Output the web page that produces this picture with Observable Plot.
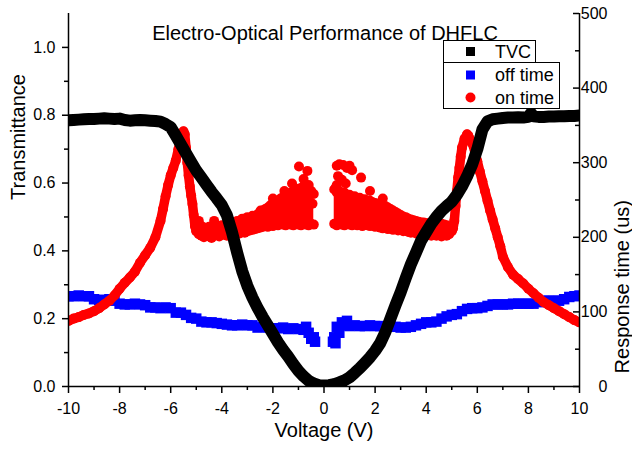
<!DOCTYPE html>
<html><head><meta charset="utf-8">
<script src="https://cdn.jsdelivr.net/npm/d3@7"></script>
<script src="https://cdn.jsdelivr.net/npm/@observablehq/plot@0.6"></script>
<style>html,body{margin:0;padding:0;background:#fff}</style>
</head><body><div id="chart"></div>
<script>
// ---------- DATA ----------
const chartTitle = "Electro-Optical Performance of DHFLC";
const xTitle = "Voltage (V)";
const yLeftTitle = "Transmittance";
const yRightTitle = "Response time (us)";
const xTicks = [-10,-8,-6,-4,-2,0,2,4,6,8,10];
const xMinor = [-9,-7,-5,-3,-1,1,3,5,7,9];
const yLeftTicks = [0,0.2,0.4,0.6,0.8,1.0];
const yLeftMinor = [0.1,0.3,0.5,0.7,0.9];
const yRightTicks = [0,100,200,300,400,500];
const yRightMinor = [50,150,250,350,450];
const legendLabels = ["TVC","off time","on time"];
const legendColors = ["#000000","#0000ff","#ff0000"];

// TVC (left axis, transmittance)
const tvcV = [-10,-9.8,-9.6,-9.4,-9.2,-9,-8.8,-8.6,-8.4,-8.2,-8,-7.8,-7.6,-7.4,-7.2,-7,-6.8,-6.6,-6.4,-6.2,-6,-5.8,-5.6,-5.4,-5.2,-5,-4.8,-4.6,-4.4,-4.2,-4,-3.8,-3.6,-3.4,-3.2,-3,-2.8,-2.6,-2.4,-2.2,-2,-1.8,-1.6,-1.4,-1.2,-1,-0.8,-0.6,-0.4,-0.2,0,0.2,0.4,0.6,0.8,1,1.2,1.4,1.6,1.8,2,2.2,2.4,2.6,2.8,3,3.2,3.4,3.6,3.8,4,4.2,4.4,4.6,4.8,5,5.2,5.4,5.6,5.8,6,6.2,6.4,6.6,6.8,7,7.2,7.4,7.6,7.8,8,8.1,8.2,8.4,8.6,8.8,9,9.2,9.4,9.6,9.8,10];
const tvcT = [0.785,0.786,0.787,0.788,0.789,0.789,0.790,0.791,0.790,0.789,0.790,0.786,0.784,0.785,0.786,0.785,0.784,0.783,0.781,0.774,0.765,0.740,0.714,0.688,0.662,0.637,0.616,0.595,0.574,0.555,0.535,0.505,0.455,0.395,0.340,0.297,0.262,0.232,0.205,0.180,0.155,0.130,0.108,0.088,0.066,0.046,0.030,0.017,0.009,0.004,0.003,0.004,0.007,0.012,0.018,0.027,0.040,0.054,0.070,0.086,0.105,0.128,0.160,0.200,0.240,0.278,0.320,0.360,0.395,0.430,0.455,0.480,0.500,0.518,0.532,0.545,0.565,0.590,0.620,0.655,0.700,0.758,0.782,0.788,0.790,0.792,0.793,0.793,0.794,0.793,0.795,0.806,0.797,0.795,0.795,0.796,0.796,0.797,0.797,0.798,0.798,0.799];

// off time (right axis, us)
const offV = [-10,-9.8,-9.6,-9.4,-9.2,-9,-8.8,-8.6,-8.4,-8.2,-8,-7.8,-7.6,-7.4,-7.2,-7,-6.8,-6.6,-6.4,-6.2,-6,-5.8,-5.6,-5.4,-5.2,-5,-4.8,-4.6,-4.4,-4.2,-4,-3.8,-3.6,-3.4,-3.2,-3,-2.8,-2.6,-2.4,-2.2,-2,-1.8,-1.6,-1.4,-1.2,-1,-0.8,-0.7,-0.6,-0.5,-0.4,-0.35,
  0.35,0.4,0.45,0.5,0.6,0.7,0.8,0.9,1,1.2,1.4,1.6,1.8,2,2.2,2.4,2.6,2.8,3,3.2,3.4,3.6,3.8,4,4.2,4.4,4.6,4.8,5,5.2,5.4,5.6,5.8,6,6.2,6.4,6.6,6.8,7,7.2,7.4,7.6,7.8,8,8.2,8.4,8.6,8.8,9,9.2,9.4,9.6,9.8,10];
const offR = [121,121,122,121,121,117,116,116,117,115,111,110,110,111,110,109,106,106,105,106,105,99,99,96,92,91,87,86,86,85,84,83,82,82,83,82,82,79,80,79,78,78,79,77,78,77,76,80,72,64,66,60,
  60,66,58,80,72,86,82,88,81,82,81,81,82,81,81,80,81,80,79,79,80,82,84,86,86,87,91,94,96,97,101,104,105,105,106,108,110,110,110,110,111,111,111,111,111,113,115,115,115,115,117,120,121,122];

// on time (right axis, us): smooth outer branches
const onOuterV = [-10,-9.8,-9.6,-9.4,-9.2,-9,-8.8,-8.6,-8.4,-8.2,-8,-7.8,-7.6,-7.4,-7.2,-7,-6.8,-6.6,-6.4,-6.3,-6.2,-6.1,-6,-5.9,-5.8,-5.7,-5.6,-5.5,-5.45,-5.4,-5.35,-5.3,-5.25,-5.2,-5.15,-5.1,-5.05,-5,
  5,5.05,5.1,5.15,5.2,5.25,5.3,5.35,5.4,5.5,5.6,5.65,5.7,5.8,5.9,6,6.1,6.2,6.3,6.4,6.5,6.6,6.7,6.8,6.9,7,7.2,7.4,7.6,7.8,8,8.2,8.4,8.6,8.8,9,9.2,9.4,9.6,9.8,10];
const onOuterR = [88,91,93,96,98,101,105,110,115,122,131,139,146,154,166,176,186,200,222,238,255,270,283,293,303,318,332,342,338,320,300,283,268,256,245,230,215,208,
  208,212,222,242,262,280,293,308,320,332,338,336,332,326,316,302,288,275,262,249,236,224,212,200,188,174,160,150,144,138,131,125,119,113,109,105,101,97,93,89,86];

// on time: middle scatter cloud (left side): lower and upper edges of the cloud
const midLV = [-4.9,-4.8,-4.7,-4.6,-4.5,-4.4,-4.3,-4.2,-4.1,-4,-3.9,-3.8,-3.7,-3.6,-3.5,-3.4,-3.3,-3.2,-3.1,-3,-2.9,-2.8,-2.7,-2.6,-2.5,-2.4,-2.3,-2.2,-2.1,-2,-1.9,-1.8,-1.7,-1.6,-1.5,-1.4,-1.3,-1.2,-1.1,-1,-0.9,-0.8,-0.7,-0.6,-0.5,-0.4];
const midLLow = [204,202,200,203,201,199,202,204,201,203,204,202,205,203,204,206,205,207,206,208,209,210,211,212,213,214,215,214,216,215,217,216,218,217,216,218,217,216,218,217,216,218,217,216,218,217];
const midLHigh = [222,215,213,212,214,212,215,213,215,216,214,218,216,220,219,222,221,225,224,227,226,229,228,231,233,236,238,240,243,245,247,249,252,254,256,258,260,262,263,265,266,268,266,270,262,258];
const midLExtraV = [-2.48,-4.3,-1.25,-0.98,-0.8,-0.65,-0.45,-2.0,-1.55];
const midLExtraR = [236,222,272,295,278,289,245,252,262];

// on time: middle scatter cloud (right side)
const midRV = [0.4,0.5,0.6,0.7,0.8,0.9,1,1.1,1.2,1.3,1.4,1.5,1.6,1.7,1.8,1.9,2,2.1,2.2,2.3,2.4,2.5,2.6,2.7,2.8,2.9,3,3.1,3.2,3.3,3.4,3.5,3.6,3.7,3.8,3.9,4,4.1,4.2,4.3,4.4,4.5,4.6,4.7,4.8,4.9];
const midRLow = [218,216,219,217,216,218,217,216,218,216,217,215,217,216,215,216,214,215,213,212,213,211,212,210,211,209,210,208,209,207,206,207,205,206,204,205,203,204,202,203,202,203,201,203,202,204];
const midRHigh = [264,260,262,258,260,256,257,254,255,252,253,250,251,248,249,247,246,245,244,243,242,240,238,236,234,232,230,228,227,225,224,223,222,221,220,220,219,219,218,219,218,217,218,217,216,214];
const midRExtraV = [0.5,0.6,0.75,0.9,1.0,1.1,0.55,0.7,0.5,0.45,1.45,1.8,0.85,2.3];
const midRExtraR = [296,298,297,293,296,290,282,277,270,266,280,262,272,252];

// ---------- BUILD ----------
const K = 1.1 / 500; // right-axis unit -> left-axis unit
const tvc = tvcV.map((v, i) => ({v, t: tvcT[i]}));
const off = offV.map((v, i) => ({v, r: offR[i]}));
const onOuter = onOuterV.map((v, i) => ({v, r: onOuterR[i], side: v < 0 ? "L" : "R"}));
const midL = midLV.map((v, i) => ({v, lo: midLLow[i], hi: midLHigh[i]}));
const midR = midRV.map((v, i) => ({v, lo: midRLow[i], hi: midRHigh[i]}));
const onMid = [
  ...midLV.map((v, i) => ({v, r: midLLow[i]})),
  ...midLV.map((v, i) => ({v, r: midLHigh[i]})),
  ...midLExtraV.map((v, i) => ({v, r: midLExtraR[i]})),
  ...midRV.map((v, i) => ({v, r: midRLow[i]})),
  ...midRV.map((v, i) => ({v, r: midRHigh[i]})),
  ...midRExtraV.map((v, i) => ({v, r: midRExtraR[i]}))
];

const font = "Liberation Sans, Arial, Helvetica, sans-serif";
const sq = 5.9; // square symbol r (side ~10.5px)

const svg = Plot.plot({
  width: 632, height: 449,
  marginLeft: 68, marginRight: 53, marginTop: 13, marginBottom: 63,
  x: {domain: [-10, 10], label: null},
  y: {domain: [0, 1.1], label: null},
  style: {fontFamily: font, fontSize: "16px", background: "#fff", color: "#000", overflow: "visible"},
  marks: [
    // off time (blue squares)
    Plot.dot(off, {x: "v", y: d => d.r * K, symbol: "square", r: sq, fill: "#0000ff", stroke: "none", clip: true}),
    // on time (red circles)
    Plot.line(onOuter, {x: "v", y: d => d.r * K, z: "side", stroke: "#ff0000", strokeWidth: 9.5, strokeLinejoin: "round", strokeLinecap: "round", clip: true}),
    Plot.dot(onOuter, {x: "v", y: d => d.r * K, r: 5, fill: "#ff0000", stroke: "none", clip: true}),
    Plot.areaY(midL, {x: "v", y1: d => d.lo * K, y2: d => d.hi * K, fill: "#ff0000", clip: true}),
    Plot.areaY(midR, {x: "v", y1: d => d.lo * K, y2: d => d.hi * K, fill: "#ff0000", clip: true}),
    Plot.dot(onMid, {x: "v", y: d => d.r * K, r: 5, fill: "#ff0000", stroke: "none", clip: true}),
    // TVC (black squares, dense -> thick band)
    Plot.line(tvc, {x: "v", y: "t", stroke: "#000", strokeWidth: 12, strokeLinejoin: "round", clip: true}),
    // axis lines
    Plot.ruleX([-10, 10], {stroke: "#000", strokeWidth: 1.5}),
    Plot.ruleY([0], {stroke: "#000", strokeWidth: 1.5}),
    // bottom axis
    Plot.axisX(xTicks, {tickSize: 7, tickPadding: 9, tickFormat: d => String(d), fontSize: 16, stroke: "#000", strokeWidth: 1.5}),
    Plot.axisX(xMinor, {tickSize: 4, tickFormat: () => "", stroke: "#000", strokeWidth: 1.5}),
    // left axis
    Plot.axisY(yLeftTicks, {tickSize: 6, tickPadding: 7, tickFormat: d => d.toFixed(1), fontSize: 16, stroke: "#000", strokeWidth: 1.5}),
    Plot.axisY(yLeftMinor, {tickSize: 4, tickFormat: () => "", stroke: "#000", strokeWidth: 1.5}),
    // right axis (ticks inward, labels right-aligned)
    Plot.tickY(yRightTicks, {y: d => d * K, insetLeft: 505, stroke: "#000", strokeWidth: 1.5}),
    Plot.tickY(yRightMinor, {y: d => d * K, insetLeft: 507, stroke: "#000", strokeWidth: 1.5}),
    Plot.text(yRightTicks, {y: d => d * K, text: d => String(d), frameAnchor: "right", dx: 28, textAnchor: "end", fontSize: 16, fill: "#000"}),
    // titles
    Plot.text([chartTitle], {frameAnchor: "top", dx: 1, dy: 12.6, fontSize: 20, fill: "#000"}),
    Plot.text([xTitle], {frameAnchor: "bottom", dy: 50.5, fontSize: 20, fill: "#000"}),
    Plot.text([yLeftTitle], {frameAnchor: "left", dx: -49.5, rotate: -90, fontSize: 20, fill: "#000"}),
    Plot.text([yRightTitle], {frameAnchor: "right", dx: 43, rotate: -90, fontSize: 20, fill: "#000"})
  ]
});

// ---------- LEGEND ----------
const s = d3.select(svg);
const lg = s.append("g").attr("font-family", font).attr("font-size", 18).attr("text-anchor", "start");
lg.append("rect").attr("x", 443.5).attr("y", 40.5).attr("width", 92).attr("height", 22)
  .attr("fill", "#fff").attr("stroke", "#000").attr("stroke-width", 1);
lg.append("rect").attr("x", 443.5).attr("y", 62.5).attr("width", 116).attr("height", 46)
  .attr("fill", "#fff").attr("stroke", "#000").attr("stroke-width", 1);
const rowY = [51.5, 75, 97.5];
legendLabels.forEach((lab, i) => {
  if (i < 2) {
    lg.append("rect").attr("x", 470.5 - 4.5).attr("y", rowY[i] - 4.5).attr("width", 9).attr("height", 9).attr("fill", legendColors[i]);
  } else {
    lg.append("circle").attr("cx", 470.5).attr("cy", rowY[i]).attr("r", 5).attr("fill", legendColors[i]);
  }
  lg.append("text").attr("x", 495).attr("y", rowY[i]).attr("dy", "0.36em").attr("fill", "#000").text(lab);
});

document.getElementById("chart").appendChild(svg);
</script></body></html>
